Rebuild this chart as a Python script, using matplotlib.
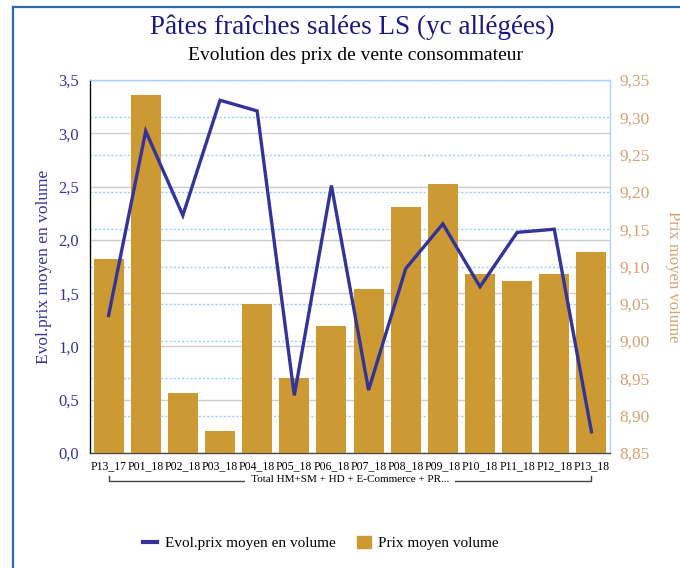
import numpy as np
import matplotlib
matplotlib.use("Agg")
import matplotlib.pyplot as plt
from matplotlib.ticker import FuncFormatter, MultipleLocator
from matplotlib.lines import Line2D
from matplotlib.patches import Patch
import matplotlib.transforms as mtrans

periods = ["P13_17", "P01_18", "P02_18", "P03_18", "P04_18", "P05_18", "P06_18",
           "P07_18", "P08_18", "P09_18", "P10_18", "P11_18", "P12_18", "P13_18"]
prix_moyen = [9.11, 9.33, 8.93, 8.88, 9.05, 8.95, 9.02,
              9.07, 9.18, 9.21, 9.09, 9.08, 9.09, 9.12]
evol_prix = [1.29, 3.02, 2.23, 3.31, 3.21, 0.54, 2.51,
             0.59, 1.73, 2.15, 1.56, 2.07, 2.10, 0.20]
group_label = "Total HM+SM + HD + E-Commerce + PR..."

BLUE = "#333399"
GOLD = "#cc9933"
TAN = "#d4a373"
plt.rcParams['font.family'] = ['Liberation Serif', 'DejaVu Serif']

fig = plt.figure(figsize=(6.8, 5.68), dpi=100)
W, H = 680, 568

# outer frame (left + top edges visible)
fig.add_artist(Line2D([13 / W, 13 / W], [0, 1 - 7 / H], color="#2a6ab0", lw=1.6))
fig.add_artist(Line2D([13 / W, 1], [1 - 7 / H, 1 - 7 / H], color="#2a6ab0", lw=1.6))

fig.text(352 / W, 1 - 27 / H, "Pâtes fraîches salées LS (yc allégées)",
         ha="center", va="center", fontsize=19.5, color="#1a1a80")
fig.text(355 / W, 1 - 56 / H, "Evolution des prix de vente consommateur",
         ha="center", va="center", fontsize=14, color="black")

ax = fig.add_axes([90 / W, 1 - 453 / H, 520 / W, 373 / H])
x = np.arange(len(periods))

# left scale: solid grid
ax.set_ylim(0, 3.5)
ax.yaxis.set_major_locator(MultipleLocator(0.5))
ax.yaxis.set_major_formatter(FuncFormatter(lambda v, p: f"{v:.1f}".replace(".", ",")))
ax.grid(axis="y", color="#cccccc", lw=1)
ax.set_axisbelow(True)
ax.tick_params(axis="y", length=0, labelsize=12, labelcolor=BLUE, pad=8)
ax.set_ylabel("Evol.prix moyen en volume", color=BLUE, fontsize=12.5, labelpad=4)

# right scale: bars + dotted grid
ax_r = ax.twinx()
ax_r.bar(x, prix_moyen, width=0.81, color=GOLD, zorder=3, bottom=0)
ax_r.set_ylim(8.85, 9.35)
ax_r.yaxis.set_major_locator(MultipleLocator(0.05))
ax_r.yaxis.set_major_formatter(FuncFormatter(lambda v, p: f"{v:.2f}".replace(".", ",")))
ax_r.grid(axis="y", color="#99ccff", lw=1, ls=(0, (1.5, 1.5)))
ax_r.tick_params(axis="y", length=0, labelsize=12.5, labelcolor=TAN, pad=7)

# line on its own twin with left scale
ax_l = ax.twinx()
ax_l.plot(x, evol_prix, color=BLUE, lw=2.4, zorder=5, solid_joinstyle="miter")
ax_l.set_ylim(0, 3.5)
ax_l.set_yticks([])

ax.set_xlim(-0.5, len(periods) - 0.5)
ax.set_xticks(x)
ax.set_xticklabels(periods, fontsize=8.5)
ax.tick_params(axis="x", length=0, pad=5)

for a in (ax, ax_r, ax_l):
    a.spines["top"].set_color("#aad4ff")
    a.spines["right"].set_color("#aad4ff")
    a.spines["left"].set_color("black")
    a.spines["bottom"].set_color("#444444")

fig.text(673 / W, 1 - 277 / H, "Prix moyen volume", rotation=270, ha="center",
         va="center", color=TAN, fontsize=12)

# category group bracket
tr = mtrans.blended_transform_factory(ax.transData, fig.transFigure)
yb = 1 - 481 / H
yt = 1 - 476 / H
ax.add_line(Line2D([0, 0, len(periods) - 1, len(periods) - 1], [yt, yb, yb, yt],
                   transform=tr, color="#444444", lw=1, clip_on=False))
ax.text((len(periods) - 1) / 2, 1 - 479 / H, f"  {group_label}  ", transform=tr,
        ha="center", va="center", fontsize=8, bbox=dict(fc="white", ec="none", pad=0.3))

handles = [Line2D([], [], color=BLUE, lw=3), Patch(color=GOLD)]
fig.legend(handles, ["Evol.prix moyen en volume", "Prix moyen volume"],
           loc="center", bbox_to_anchor=(321 / W, 1 - 543 / H), ncol=2, frameon=False,
           fontsize=11, handlelength=0.9, handleheight=0.8, columnspacing=1.4,
           handletextpad=0.5)

fig.savefig("out.png", dpi=100)
